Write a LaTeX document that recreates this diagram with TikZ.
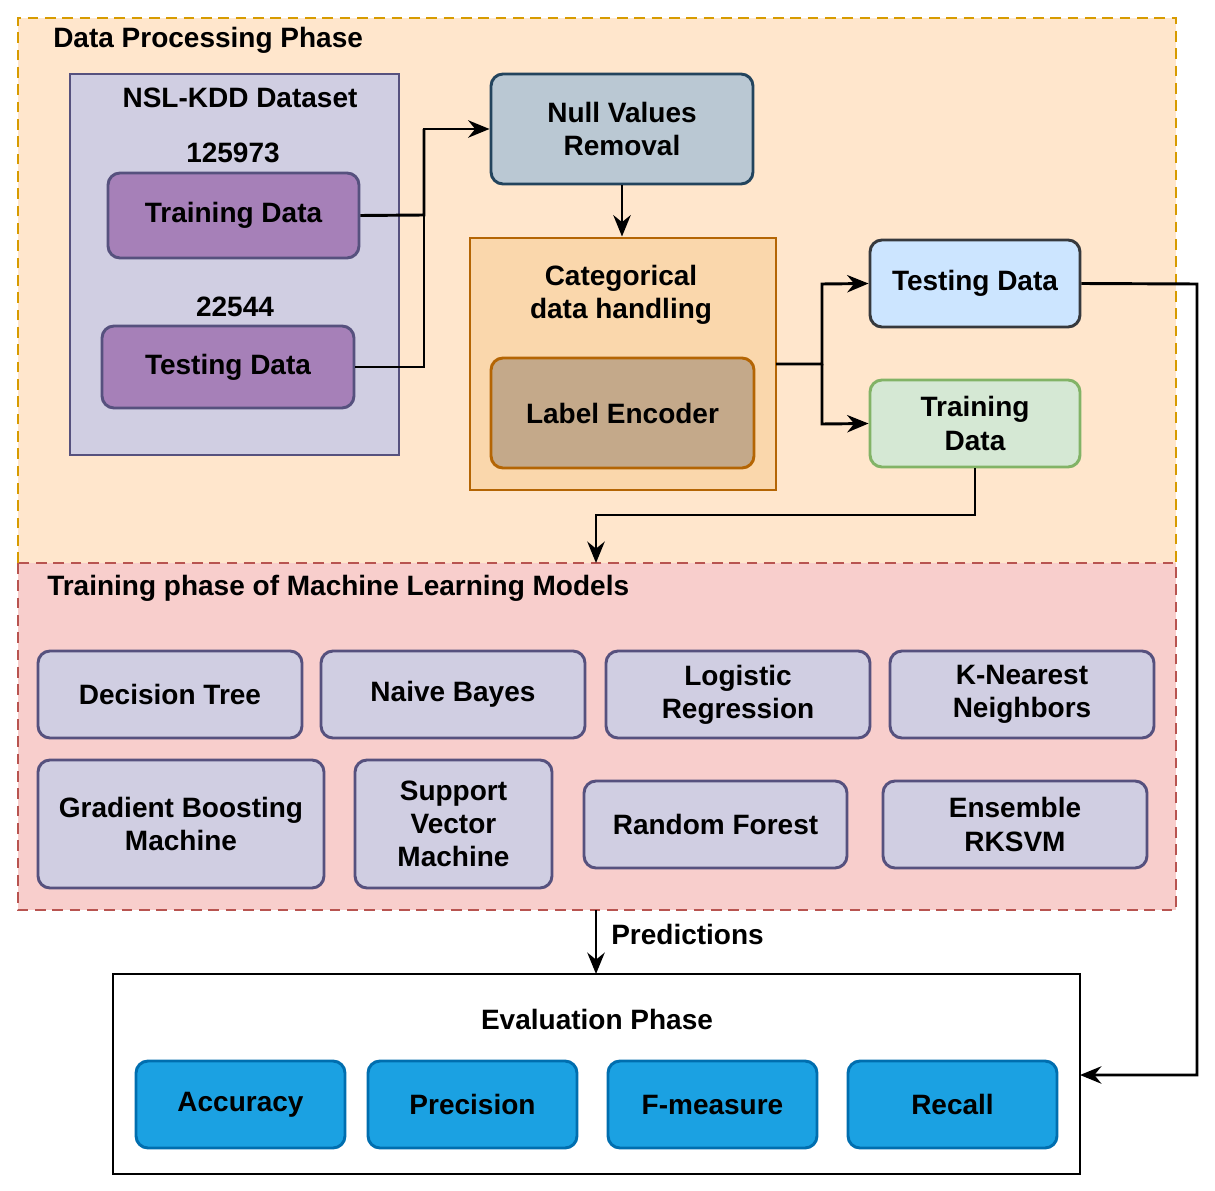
\documentclass[tikz,border=0pt]{standalone}
\usepackage{fontspec}
\setmainfont{Liberation Sans}
\usetikzlibrary{arrows.meta}
\definecolor{orF}{HTML}{FFE6CC}\definecolor{orS}{HTML}{D79B00}
\definecolor{rdF}{HTML}{F8CECC}\definecolor{rdS}{HTML}{B85450}
\definecolor{puF}{HTML}{D0CEE2}\definecolor{puS}{HTML}{56517E}
\definecolor{vpF}{HTML}{A680B8}
\definecolor{blF}{HTML}{BAC8D3}\definecolor{blS}{HTML}{23445D}
\definecolor{caF}{HTML}{FAD7AC}\definecolor{caS}{HTML}{B46504}
\definecolor{leF}{HTML}{C4A98A}
\definecolor{tbF}{HTML}{CCE5FF}\definecolor{tbS}{HTML}{36393D}
\definecolor{grF}{HTML}{D5E8D4}\definecolor{grS}{HTML}{82B366}
\definecolor{mF}{HTML}{1BA1E2}\definecolor{mS}{HTML}{006EAF}
\tikzset{
 x=0.75pt,y=-0.75pt,
 every node/.style={font=\fontsize{21}{25}\selectfont\bfseries,align=center,inner sep=0pt},
 box/.style={draw,line width=2.2pt,rounded corners=9pt},
 arr/.style={line width=2.2pt,-{Stealth[length=16pt,width=13pt]}},
 ln/.style={line width=2.2pt},
}
\newcommand{\bx}[6]{\node[box,#6,minimum width={(#3-#1)*0.75pt},minimum height={(#4-#2)*0.75pt}] (#5) at ({(#1+#3)/2},{(#2+#4)/2}) {};}
\begin{document}
\begin{tikzpicture}
\useasboundingbox (0,0) rectangle (1215,1191);
\fill[orF] (18,18) rectangle (1176,563);
\draw[orS,line width=2.2pt,dash pattern=on 8pt off 5pt] (18,563) -- (18,18) -- (1176,18) -- (1176,563);
\fill[rdF] (18,563) rectangle (1176,910);
\draw[rdS,line width=2.2pt,dash pattern=on 8pt off 5pt] (18,563) rectangle (1176,910);
\node[anchor=west] (t1) at (53,40) {Data Processing Phase};
\node[anchor=west] (t2) at (47,588) {Training phase of Machine Learning Models};
% NSL-KDD
\bx{70}{74}{399}{455}{nsl}{draw=puS,fill=puF,rounded corners=0pt}
\node (nslt) at (240,98) {NSL-KDD Dataset};
\node (n1) at (233,153) {125973};
\node (n2) at (235,307) {22544};
\bx{108}{173}{359}{258}{trd}{draw=puS,fill=vpF}
\node at (trd) {Training Data};
\bx{102}{326}{354}{408}{ted}{draw=puS,fill=vpF}
\node at (ted) {Testing Data};
\bx{491}{74}{753}{184}{nul}{draw=blS,fill=blF}
\node at (nul) {Null Values\\Removal};
\bx{470}{238}{776}{490}{cat}{draw=caS,fill=caF,rounded corners=0pt}
\node (catt) at (621,295) {Categorical\\data handling};
\bx{491}{358}{754}{468}{le}{draw=caS,fill=leF}
\node at (le) {Label Encoder};
\bx{870}{240}{1080}{327}{tb}{draw=tbS,fill=tbF}
\node at (tb) {Testing Data};
\bx{870}{380}{1080}{467}{tg}{draw=grS,fill=grF}
\node at (tg) {Training\\Data};
% arrows
\draw[ln] (trd.east) -- (424,215) -- (424,129);
\draw[arr] (ted.east) -- (424,367) -- (424,129) -- (nul.west);
\draw[arr] (nul.south) -- (cat.north -| nul.south);
\draw[ln] (776,364) -- (822,364);
\draw[arr] (776,364) -- (822,364) -- (822,284) -- (tb.west);
\draw[arr] (822,364) -- (822,424) -- (tg.west);
\coordinate (tin) at (596,563);
\draw[arr] (tg.south) -- (975,515) -- (596,515) -- (tin);
% models
\foreach \a/\b/\c/\d/\n/\t in {38/651/302/738/m1/Decision Tree,321/651/585/738/m2/Naive Bayes,606/651/870/738/m3/Logistic\\Regression,890/651/1154/738/m4/K-Nearest\\Neighbors,38/760/324/888/m5/Gradient Boosting\\Machine,355/760/552/888/m6/Support\\Vector\\Machine,584/781/847/868/m7/Random Forest,883/781/1147/868/m8/Ensemble\\RKSVM}{
 \bx{\a}{\b}{\c}{\d}{\n}{draw=puS,fill=puF}
 \node at (\n) {\t};
}
% evaluation
\bx{113}{974}{1080}{1174}{ev}{draw=black,fill=white,rounded corners=0pt}
\node (evt) at (597,1019) {Evaluation Phase};
\coordinate (pout) at (596,910);
\draw[arr] (pout) -- (596,974);
\node[anchor=west] (pl) at (611,934) {Predictions};
\draw[arr] (tb.east) -- (1197,284) -- (1197,1075) -- (1080,1075);
\foreach \a/\n/\t in {136/e1/Accuracy,368/e2/Precision,608/e3/F-measure,848/e4/Recall}{
 \bx{\a}{1061}{\a+209}{1148}{\n}{draw=mS,fill=mF}
 \node at (\n) {\t};
}
\end{tikzpicture}
\end{document}
